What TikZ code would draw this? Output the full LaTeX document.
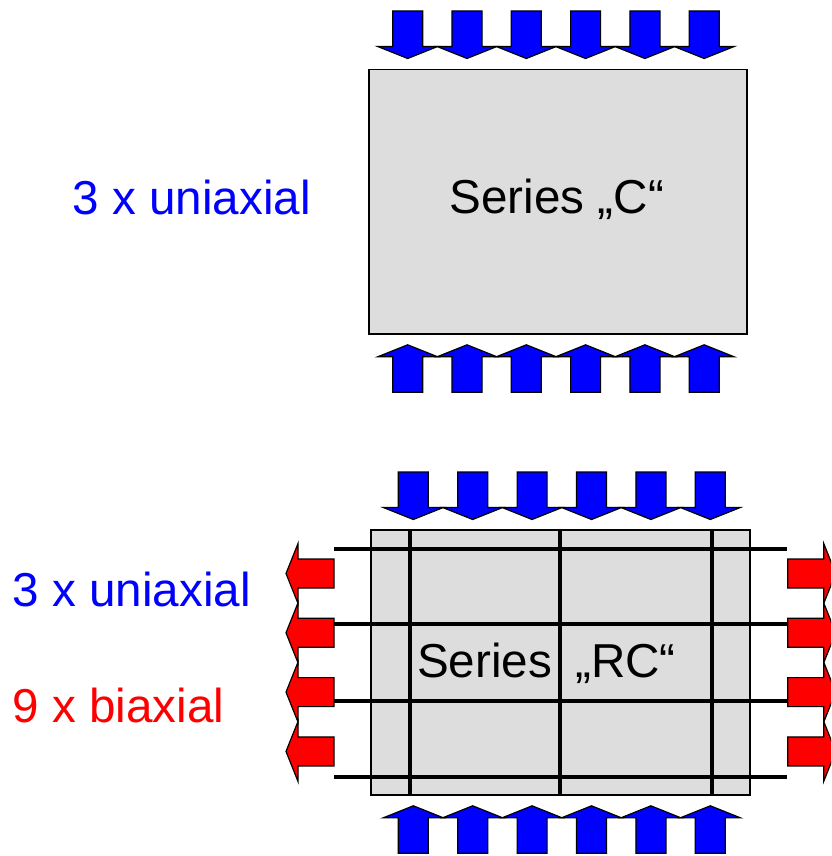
\documentclass[tikz,border=0pt]{standalone}
\usepackage{fontspec}
\setmainfont{Liberation Sans}
\definecolor{boxgray}{RGB}{221,221,221}
\definecolor{myblue}{RGB}{0,0,255}
\definecolor{myred}{RGB}{255,0,0}
\begin{document}
\begin{tikzpicture}[x=1pt,y=-1pt,
  lbl/.style={anchor=base west,inner sep=0pt,font=\fontsize{47.6}{57}\selectfont},
  arrowline/.style={draw=black,line width=1.2pt,line join=miter},
  bluearr/.style={arrowline,fill=myblue},
  redarr/.style={arrowline,fill=myred},
  panel/.style={draw=black,line width=1.8pt,fill=boxgray},
  grid/.style={draw=black,line width=4pt},
  downarr/.pic={\path[bluearr] (-15,0) -- (15,0) -- (15,35.5) -- (30,35.5) -- (0,47.5) -- (-30,35.5) -- (-15,35.5) -- cycle;},
  uparr/.pic={\path[bluearr] (-15,0) -- (15,0) -- (15,-35.5) -- (30,-35.5) -- (0,-47.5) -- (-30,-35.5) -- (-15,-35.5) -- cycle;},
  leftarr/.pic={\path[redarr] (0,-14.5) -- (0,14.5) -- (-36,14.5) -- (-36,30) -- (-48,0) -- (-36,-30) -- (-36,-14.5) -- cycle;},
  rightarr/.pic={\path[redarr] (0,-14.5) -- (0,14.5) -- (36,14.5) -- (36,30) -- (48,0) -- (36,-30) -- (36,-14.5) -- cycle;}
]
\useasboundingbox (0,0) rectangle (831,856);
\clip (0,0) rectangle (831,856);

% ---------- Series C ----------
\draw[panel] (368.7,69.5) rectangle (746.7,334);
\foreach \i in {0,...,5}{
  \pic at ({407.7+59.3*\i},11) {downarr};
  \pic at ({407.7+59.3*\i},392.3) {uparr};
}
\node[lbl] (seriesC) at (449.5,213.5) {Series „C“};
\node[lbl,text=myblue] (uniA) at (72.5,214.3) {3 x uniaxial};

% ---------- Series RC ----------
\draw[panel] (371,530) rectangle (750,795);
\foreach \y in {549.3,624.3,700.7,776.7}{
  \draw[grid] (334,\y) -- (787,\y);
}
\foreach \x in {409.5,560,711.8}{
  \draw[grid] (\x,530) -- (\x,795);
}
\foreach \i in {0,...,5}{
  \pic at ({413.3+59.4*\i},472) {downarr};
  \pic at ({413.3+59.4*\i},853.3) {uparr};
}
\foreach \i in {0,...,3}{
  \pic at (334,{573.5+59.3*\i}) {leftarr};
  \pic at (787.7,{573.5+59.3*\i}) {rightarr};
}
\node[lbl] (seriesRC1) at (417,677.7) {Series};
\node[lbl] (seriesRC2) at (575,677.7) {„RC“};
\node[lbl,text=myblue] (uniB) at (12.5,606.7) {3 x uniaxial};
\node[lbl,text=myred] (biB) at (12.5,722.7) {9 x biaxial};
\end{tikzpicture}
\end{document}
